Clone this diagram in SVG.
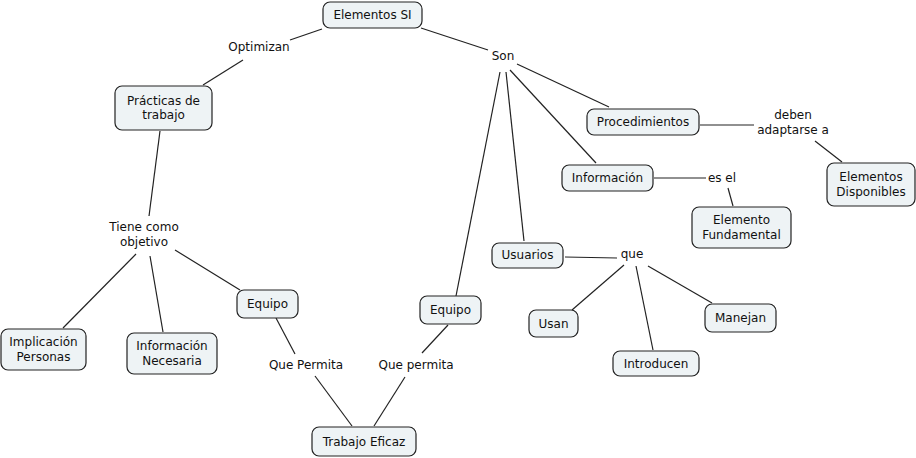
<svg xmlns="http://www.w3.org/2000/svg" width="916" height="458" viewBox="0 0 916 458">
<style>
.n rect{fill:#eef3f5;stroke:#222;stroke-width:1.2}
text{font-family:"DejaVu Sans",Verdana,sans-serif;font-size:12px;fill:#111;text-anchor:middle}
.c line{stroke:#222;stroke-width:1.2}
</style>
<rect width="916" height="458" fill="#fff"/>
<g class="c">
<line x1="322" y1="29" x2="290" y2="40"/>
<line x1="243" y1="60" x2="203" y2="85"/>
<line x1="421" y1="28" x2="488" y2="50"/>
<line x1="517" y1="64" x2="609" y2="107"/>
<line x1="510" y1="70" x2="596" y2="163"/>
<line x1="506" y1="72" x2="524" y2="241"/>
<line x1="500" y1="72" x2="456" y2="296"/>
<line x1="700" y1="125" x2="754" y2="125"/>
<line x1="815" y1="141" x2="842" y2="162"/>
<line x1="654" y1="178" x2="706" y2="178"/>
<line x1="728" y1="188" x2="733" y2="206"/>
<line x1="160" y1="131" x2="149" y2="216"/>
<line x1="136" y1="254" x2="63" y2="328"/>
<line x1="150" y1="256" x2="163" y2="332"/>
<line x1="175" y1="250" x2="240" y2="290"/>
<line x1="276" y1="318" x2="295" y2="354"/>
<line x1="315" y1="376" x2="352" y2="426"/>
<line x1="448" y1="325" x2="422" y2="353"/>
<line x1="405" y1="377" x2="374" y2="426"/>
<line x1="565" y1="257" x2="617" y2="258"/>
<line x1="624" y1="265" x2="572" y2="310"/>
<line x1="636" y1="266" x2="653" y2="350"/>
<line x1="648" y1="266" x2="712" y2="303"/>
</g>
<g id="lbl-optimizan"><text x="259" y="51">Optimizan</text></g>
<g id="lbl-son"><text x="503" y="60">Son</text></g>
<g id="lbl-deben"><text x="793" y="119">deben</text><text x="793" y="134">adaptarse a</text></g>
<g id="lbl-esel"><text x="722" y="182">es el</text></g>
<g id="lbl-que"><text x="632" y="258">que</text></g>
<g id="lbl-tiene"><text x="144" y="231">Tiene como</text><text x="144" y="246">objetivo</text></g>
<g id="lbl-qp1"><text x="306" y="369">Que Permita</text></g>
<g id="lbl-qp2"><text x="416" y="369">Que permita</text></g>

<g id="n-elementos" class="n"><rect x="323" y="2" width="99" height="26" rx="7"/><text x="372.5" y="19">Elementos SI</text></g>
<g id="n-practicas" class="n"><rect x="115" y="86" width="97" height="44" rx="7"/><text x="163.5" y="105">Prácticas de</text><text x="163.5" y="119">trabajo</text></g>
<g id="n-proced" class="n"><rect x="587" y="109" width="112" height="26" rx="7"/><text x="643" y="126">Procedimientos</text></g>
<g id="n-info" class="n"><rect x="562" y="165" width="91" height="26" rx="7"/><text x="607.5" y="182">Información</text></g>
<g id="n-fund" class="n"><rect x="692" y="207" width="99" height="41" rx="7"/><text x="741.5" y="224">Elemento</text><text x="741.5" y="239">Fundamental</text></g>
<g id="n-disp" class="n"><rect x="827" y="163" width="88" height="43" rx="7"/><text x="871" y="181">Elementos</text><text x="871" y="196">Disponibles</text></g>
<g id="n-impl" class="n"><rect x="1" y="329" width="85" height="41" rx="7"/><text x="43.5" y="346">Implicación</text><text x="43.5" y="361">Personas</text></g>
<g id="n-infnec" class="n"><rect x="127" y="333" width="90" height="41" rx="7"/><text x="172" y="350">Información</text><text x="172" y="365">Necesaria</text></g>
<g id="n-equipo1" class="n"><rect x="237" y="290" width="61" height="28" rx="7"/><text x="267.5" y="308">Equipo</text></g>
<g id="n-equipo2" class="n"><rect x="420" y="296" width="61" height="28" rx="7"/><text x="450.5" y="314">Equipo</text></g>
<g id="n-trabajo" class="n"><rect x="312" y="427" width="104" height="29" rx="7"/><text x="364" y="446">Trabajo Eficaz</text></g>
<g id="n-usuarios" class="n"><rect x="492" y="243" width="71" height="25" rx="7"/><text x="527.5" y="259">Usuarios</text></g>
<g id="n-usan" class="n"><rect x="529" y="310" width="49" height="27" rx="7"/><text x="553.5" y="328">Usan</text></g>
<g id="n-manejan" class="n"><rect x="705" y="304" width="71" height="28" rx="7"/><text x="740.5" y="322">Manejan</text></g>
<g id="n-introd" class="n"><rect x="613" y="351" width="86" height="25" rx="7"/><text x="656" y="368">Introducen</text></g>
</svg>
